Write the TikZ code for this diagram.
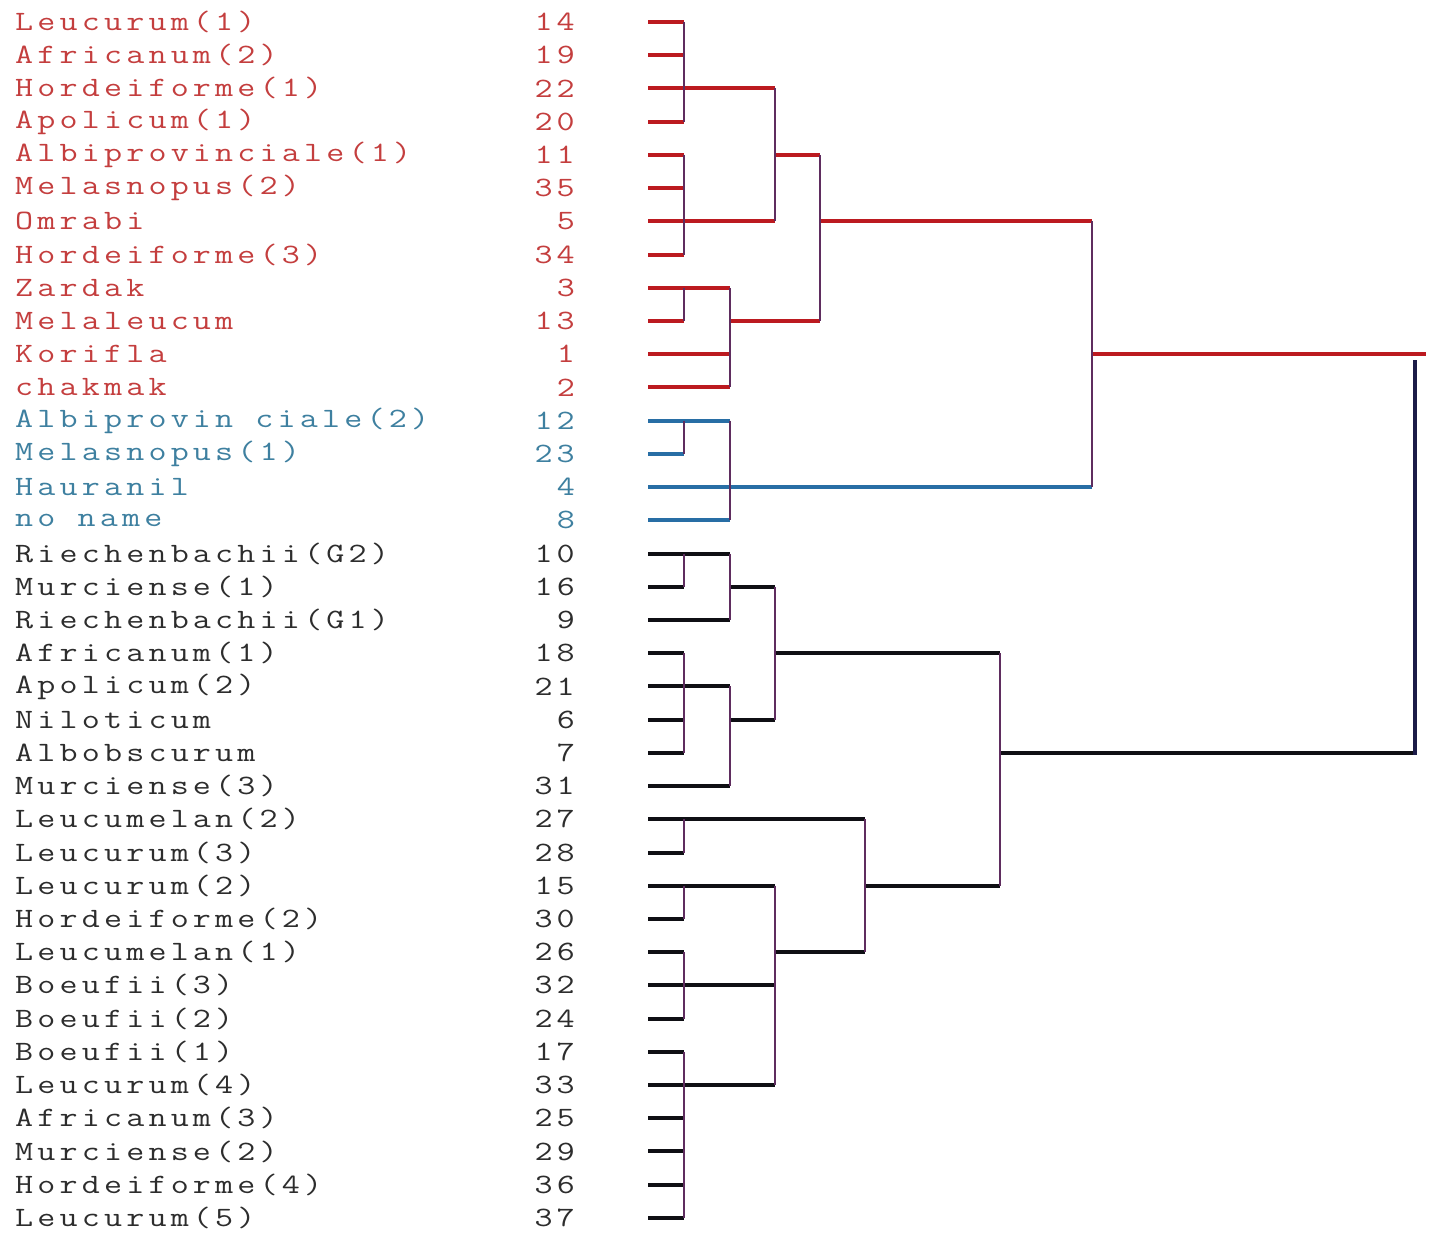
\documentclass[tikz,border=0pt]{standalone}
\usepackage{fontspec}
\newfontfamily\lblfam{Latin Modern Mono}[FakeStretch=1.25,LetterSpace=15]
\newcommand\lblfont{\lblfam\fontsize{28}{28}\selectfont}
\definecolor{redt}{RGB}{196,62,62}
\definecolor{bluet}{RGB}{62,128,160}
\definecolor{blackt}{RGB}{45,45,45}
\definecolor{redl}{RGB}{188,26,32}
\definecolor{bluel}{RGB}{40,110,165}
\definecolor{blackl}{RGB}{15,15,20}
\definecolor{vcol}{RGB}{95,45,95}
\definecolor{rootc}{RGB}{28,28,72}
\pgfmathdeclarefunction{ry}{1}{\pgfmathparse{22+(#1-1)*33.22}}
\tikzset{
  lbl/.style={anchor=west,inner sep=0pt,font=\lblfont},
  num/.style={anchor=east,inner sep=0pt,font=\lblfont},
  hl/.style={line width=4pt},
  vl/.style={line width=1.8pt,vcol},
}
% \junc{x}{top row}{bottom row}{out row}{parent x}{colour}
\newcommand\junc[6]{%
  \coordinate (j-#1-#2) at (#1,{ry(#2)});
  \draw[hl,#6] (#1,{ry(#4)}) -- (#5,{ry(#4)});
}
\newcommand\juncv[3]{%
  \draw[vl] (#1,{ry(#2)}) -- (#1,{ry(#3)});
}
\begin{document}
\begin{tikzpicture}[x=1pt,y=-1pt]
\useasboundingbox (0,0) rectangle (1432,1234);
\fill[white] (0,0) rectangle (1432,1234);
% labels and numbers
\foreach \i/\t/\n/\c in {
 1/Leucurum(1)/14/redt, 2/Africanum(2)/19/redt, 3/Hordeiforme(1)/22/redt,
 4/Apolicum(1)/20/redt, 5/Albiprovinciale(1)/11/redt, 6/Melasnopus(2)/35/redt,
 7/Omrabi/5/redt, 8/Hordeiforme(3)/34/redt, 9/Zardak/3/redt,
 10/Melaleucum/13/redt, 11/Korifla/1/redt, 12/chakmak/2/redt,
 13/{Albiprovin ciale(2)}/12/bluet, 14/Melasnopus(1)/23/bluet,
 15/Hauranil/4/bluet, 16/{no name}/8/bluet,
 17/Riechenbachii(G2)/10/blackt, 18/Murciense(1)/16/blackt,
 19/Riechenbachii(G1)/9/blackt, 20/Africanum(1)/18/blackt,
 21/Apolicum(2)/21/blackt, 22/Niloticum/6/blackt, 23/Albobscurum/7/blackt,
 24/Murciense(3)/31/blackt, 25/Leucumelan(2)/27/blackt,
 26/Leucurum(3)/28/blackt, 27/Leucurum(2)/15/blackt,
 28/Hordeiforme(2)/30/blackt, 29/Leucumelan(1)/26/blackt,
 30/Boeufii(3)/32/blackt, 31/Boeufii(2)/24/blackt, 32/Boeufii(1)/17/blackt,
 33/Leucurum(4)/33/blackt, 34/Africanum(3)/25/blackt,
 35/Murciense(2)/29/blackt, 36/Hordeiforme(4)/36/blackt,
 37/Leucurum(5)/37/blackt}{
  \node[lbl,text=\c] (L\i) at (15,{ry(\i)}) {\t};
  \node[num,text=\c] (N\i) at (575,{ry(\i)}) {\n};
  \coordinate (leaf\i) at (648,{ry(\i)});
}
% leaf stubs
\foreach \i/\e/\c in {1/684/redl,2/684/redl,3/684/redl,4/684/redl,5/684/redl,
 6/684/redl,7/684/redl,8/684/redl,9/684/redl,10/684/redl,11/730/redl,12/730/redl,
 13/684/bluel,14/684/bluel,15/730/bluel,16/730/bluel,
 17/684/blackl,18/684/blackl,19/730/blackl,20/684/blackl,21/684/blackl,
 22/684/blackl,23/684/blackl,24/730/blackl,25/684/blackl,26/684/blackl,
 27/684/blackl,28/684/blackl,29/684/blackl,30/684/blackl,31/684/blackl,
 32/684/blackl,33/684/blackl,34/684/blackl,35/684/blackl,36/684/blackl,
 37/684/blackl}{
  \draw[hl,\c] (leaf\i) -- (\e,{ry(\i)});
}
% horizontal links
\junc{684}{1}{4}{3}{775}{redl}
\junc{684}{5}{8}{7}{775}{redl}
\junc{775}{3}{7}{5}{820}{redl}
\junc{684}{9}{10}{9}{730}{redl}
\junc{730}{9}{12}{10}{820}{redl}
\junc{820}{5}{10}{7}{1092}{redl}
\junc{684}{13}{14}{13}{730}{bluel}
\junc{730}{13}{16}{15}{1092}{bluel}
\junc{1092}{7}{15}{11}{1426}{redl}
\junc{684}{17}{18}{17}{730}{blackl}
\junc{730}{17}{19}{18}{775}{blackl}
\junc{684}{20}{23}{21}{730}{blackl}
\junc{730}{21}{24}{22}{775}{blackl}
\junc{775}{18}{22}{20}{1000}{blackl}
\junc{684}{25}{26}{25}{865}{blackl}
\junc{684}{27}{28}{27}{775}{blackl}
\junc{684}{29}{31}{30}{775}{blackl}
\junc{684}{32}{37}{33}{775}{blackl}
\junc{775}{27}{33}{29}{865}{blackl}
\junc{865}{25}{29}{27}{1000}{blackl}
\junc{1000}{20}{27}{23}{1416}{blackl}
% vertical links
\juncv{684}{1}{4}
\juncv{684}{5}{8}
\juncv{775}{3}{7}
\juncv{684}{9}{10}
\juncv{730}{9}{12}
\juncv{820}{5}{10}
\juncv{684}{13}{14}
\juncv{730}{13}{16}
\juncv{1092}{7}{15}
\juncv{684}{17}{18}
\juncv{730}{17}{19}
\juncv{684}{20}{23}
\juncv{730}{21}{24}
\juncv{775}{18}{22}
\juncv{684}{25}{26}
\juncv{684}{27}{28}
\juncv{684}{29}{31}
\juncv{684}{32}{37}
\juncv{775}{27}{33}
\juncv{865}{25}{29}
\juncv{1000}{20}{27}
% root
\draw[line width=4pt,rootc] (1415,{ry(11)+6}) -- (1415,{ry(23)+2});
\end{tikzpicture}
\end{document}
